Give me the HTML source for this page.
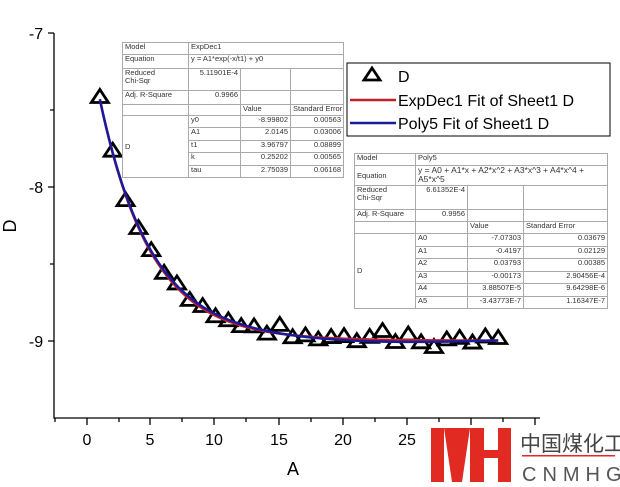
<!DOCTYPE html>
<html><head><meta charset="utf-8"><style>
body{margin:0;background:#fff;width:620px;height:487px;overflow:hidden;position:relative;font-family:"Liberation Sans",sans-serif}
svg{position:absolute;left:0;top:0}
table{position:absolute;border-collapse:collapse;font-size:7.5px;color:#333;background:#fff;border:1px solid #000;table-layout:fixed}
td{border:1px solid #aaa;padding:0 2px;line-height:8px;vertical-align:top;white-space:nowrap;overflow:hidden}
td.r{text-align:right}
</style></head><body>
<svg width="620" height="487" viewBox="0 0 620 487">
<g stroke="#000" stroke-width="1.3" fill="none">
<path d="M54 33V418H540"/>
<path d="M48 33H54M48 187H54M48 341H54M50 110H54M50 264H54"/>
</g>
<g font-size="16" fill="#000" text-anchor="middle">
<text x="36" y="39">-7</text><text x="36" y="193">-8</text><text x="36" y="347">-9</text>
<text x="87" y="445">0</text><text x="150" y="445">5</text><text x="214" y="445">10</text><text x="279" y="445">15</text><text x="343" y="445">20</text><text x="407" y="445">25</text>
<text x="293" y="475" font-size="18">A</text>
<text x="16" y="226" font-size="18" transform="rotate(-90 16 226)">D</text>
</g>
<path d="M87 418v7M150 418v7M214 418v7M279 418v7M343 418v7M407 418v7M471 418v7M535 418v7M119 418v4M182 418v4M246 418v4M311 418v4M375 418v4M439 418v4M503 418v4M55 418v4" stroke="#000" stroke-width="1.3"/>
<g id="pts" fill="none" stroke="#000" stroke-width="2.8" stroke-linejoin="miter"></g>
<path id="fr" fill="none" stroke="#c0202a" stroke-width="2.5"/>
<path id="fb" fill="none" stroke="#1a1a9a" stroke-width="2.5"/>
<rect x="347" y="63" width="263" height="73" fill="#fff" stroke="#000" stroke-width="1"/>
<path d="M372 68L364 80H380Z" fill="none" stroke="#000" stroke-width="2.8"/>
<text x="398" y="82" font-size="16">D</text>
<line x1="350" y1="100" x2="396" y2="100" stroke="#c0202a" stroke-width="2.5"/>
<text x="398" y="106" font-size="16">ExpDec1 Fit of Sheet1 D</text>
<line x1="350" y1="123" x2="396" y2="123" stroke="#1a1a9a" stroke-width="2.5"/>
<text x="398" y="129" font-size="16">Poly5 Fit of Sheet1 D</text>
<rect x="431" y="428" width="13" height="54" fill="#e02a22"/>
<path d="M444 428H470L462 482H452Z" fill="#e02a22"/>
<path d="M470 428H484V482H470Z" fill="#e02a22"/>
<rect x="484" y="450" width="14" height="8" fill="#e02a22"/>
<rect x="498" y="428" width="13" height="54" fill="#e02a22"/>
<text x="520" y="451" font-size="21" fill="#444" font-family="'Noto Sans CJK SC',sans-serif">中国煤化工</text>
<rect x="522" y="455" width="93" height="1.5" fill="#e02a22"/>
<text x="522" y="481" font-size="20" fill="#555" letter-spacing="6">CNMHG</text>
</svg>
<table style="left:122px;top:42px;width:222px;height:136px">
<colgroup><col style="width:66px"><col style="width:52px"><col style="width:50px"><col></colgroup>
<tr style="height:12px"><td>Model</td><td colspan="3">ExpDec1</td></tr>
<tr style="height:14px"><td>Equation</td><td colspan="3">y = A1*exp(-x/t1) + y0</td></tr>
<tr style="height:22px"><td>Reduced<br>Chi-Sqr</td><td class="r">5.11901E-4</td><td></td><td></td></tr>
<tr style="height:14px"><td>Adj. R-Square</td><td class="r">0.9966</td><td></td><td></td></tr>
<tr style="height:11px"><td></td><td></td><td>Value</td><td>Standard Error</td></tr>
<tr><td rowspan="5" style="vertical-align:middle">D</td><td>y0</td><td class="r">-8.99802</td><td class="r">0.00563</td></tr>
<tr><td>A1</td><td class="r">2.0145</td><td class="r">0.03006</td></tr>
<tr><td>t1</td><td class="r">3.96797</td><td class="r">0.08899</td></tr>
<tr><td>k</td><td class="r">0.25202</td><td class="r">0.00565</td></tr>
<tr><td>tau</td><td class="r">2.75039</td><td class="r">0.06168</td></tr>
</table>
<table style="left:354px;top:153px;width:254px;height:156px">
<colgroup><col style="width:61px"><col style="width:52px"><col style="width:56px"><col></colgroup>
<tr style="height:12px"><td>Model</td><td colspan="3">Poly5</td></tr>
<tr style="height:20px"><td style="vertical-align:middle">Equation</td><td colspan="3" style="white-space:normal;font-size:8.5px;line-height:9px">y = A0 + A1*x + A2*x^2 + A3*x^3 + A4*x^4 + A5*x^5</td></tr>
<tr style="height:24px"><td>Reduced<br>Chi-Sqr</td><td class="r">6.61352E-4</td><td></td><td></td></tr>
<tr style="height:12px"><td>Adj. R-Square</td><td class="r">0.9956</td><td></td><td></td></tr>
<tr style="height:12px"><td></td><td></td><td>Value</td><td>Standard Error</td></tr>
<tr><td rowspan="6" style="vertical-align:middle">D</td><td>A0</td><td class="r">-7.07303</td><td class="r">0.03679</td></tr>
<tr><td>A1</td><td class="r">-0.4197</td><td class="r">0.02129</td></tr>
<tr><td>A2</td><td class="r">0.03793</td><td class="r">0.00385</td></tr>
<tr><td>A3</td><td class="r">-0.00173</td><td class="r">2.90456E-4</td></tr>
<tr><td>A4</td><td class="r">3.88507E-5</td><td class="r">9.64298E-6</td></tr>
<tr><td>A5</td><td class="r">-3.43773E-7</td><td class="r">1.16347E-7</td></tr>
</table>
<script>
var X=x=>87+12.85*x, Y=y=>33+(-7-y)*154;
var f=x=>-8.99802+2.0145*Math.exp(-x/3.96797);
var noise=[0.02,0.02,-0.03,0,0.02,0,0.03,0,0.02,0,0.01,0,0.02,-0.01,0.06,-0.01,0.01,-0.01,0.01,0.02,-0.01,0.02,0.06,-0.01,0.04,-0.01,-0.04,0.01,0.02,-0.01,0.03,0.02];
var s='';
for(var i=1;i<=32;i++){var x=X(i),y=Y(f(i)+noise[i-1]);s+='<path d="M'+x+' '+(y-7)+'L'+(x-8.5)+' '+(y+6)+'H'+(x+8.5)+'Z"/>';}
document.getElementById('pts').innerHTML=s;
var a='',b='';
for(var t=1;t<=32;t+=0.25){var y1=f(t);var p=y1+0.012*Math.sin(t/5);
a+=(a?'L':'M')+X(t)+' '+Y(y1);b+=(b?'L':'M')+X(t)+' '+Y(p);}
document.getElementById('fr').setAttribute('d',a);document.getElementById('fb').setAttribute('d',b);
</script>
</body></html>
